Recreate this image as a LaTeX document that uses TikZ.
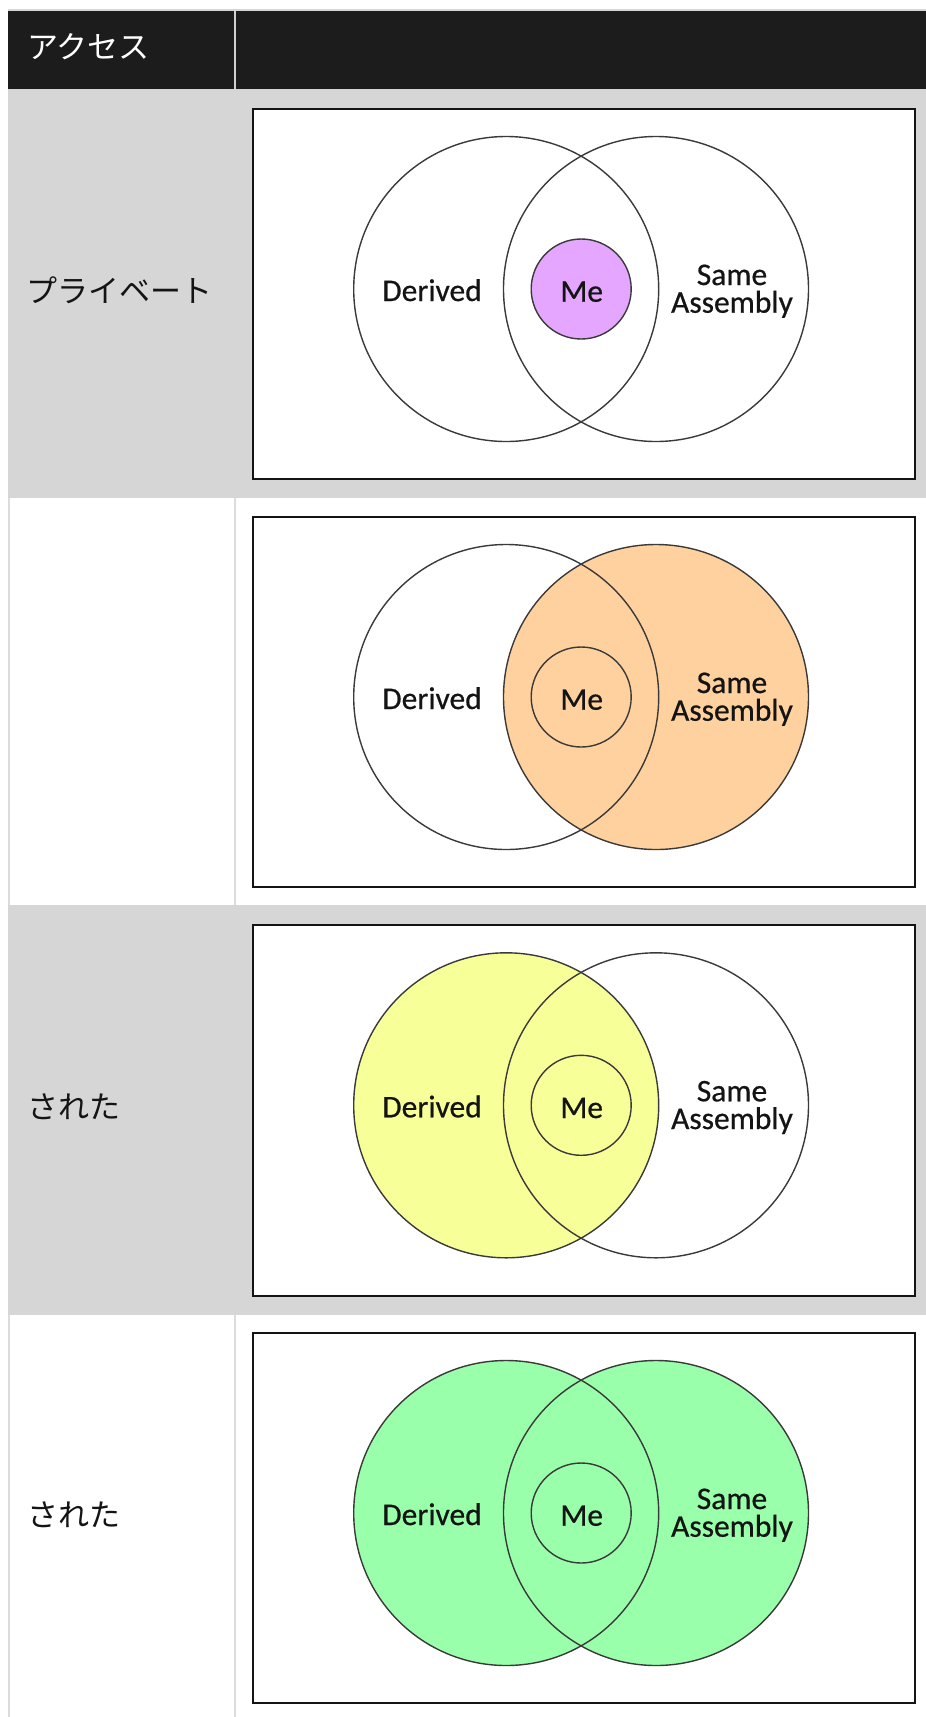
\documentclass[tikz,border=0pt]{standalone}
\usepackage{fontspec}
\setmainfont{Carlito}
\newfontfamily\lblfont{Carlito}[FakeBold=0.6]
\newfontfamily\jpfont{Noto Sans CJK JP}
\definecolor{hdr}{HTML}{1C1C1C}
\definecolor{rowgray}{HTML}{D6D6D6}
\definecolor{cellline}{HTML}{DCDCDC}
\definecolor{hdrline}{HTML}{D0D0D0}
\definecolor{mepurple}{RGB}{228,166,255}
\definecolor{saorange}{RGB}{255,209,158}
\definecolor{dyellow}{RGB}{247,255,153}
\definecolor{allgreen}{RGB}{153,255,170}
\definecolor{ring}{HTML}{3A3A3A}
\definecolor{txt}{HTML}{141414}
\tikzset{
  ringline/.style={draw=ring, line width=1.4pt},
  framebox/.style={draw=txt, line width=2pt, fill=white},
  lbl/.style={font=\lblfont\fontsize{31.5}{27.7}\selectfont, text=txt, inner sep=0pt, anchor=base},
  jplbl/.style={font=\jpfont\fontsize{31}{31}\selectfont, text=txt, inner sep=0pt, anchor=west},
}
\newcommand\vennrow[3]{%
  \def\cy{#1}%
  \draw[framebox] (253.3,\cy-180.3) rectangle (915,\cy+190.3);
  #2
  \draw[ringline] (506.2,\cy) circle[radius=152.5];
  \draw[ringline] (656,\cy) circle[radius=152.5];
  \draw[ringline] (581.2,\cy) circle[radius=50];
  \node[lbl] (#3der) at (432,\cy+12) {Derived};
  \node[lbl] (#3me) at (581.7,\cy+12.7) {Me};
  \node[lbl, align=center] (#3sa) at (732,\cy+23.7) {Same\\Assembly};
}
\begin{document}
\begin{tikzpicture}[x=1pt,y=-1pt]
\useasboundingbox (0,0) rectangle (926,1717);
\fill[white] (0,0) rectangle (926,1717);
% header
\fill[rowgray] (8,8.7) rectangle (926,10.7);
\fill[hdr] (8,10.7) rectangle (926,89);
\fill[hdrline] (234,10.7) rectangle (236,89);
% rows
\fill[rowgray] (8,89) rectangle (926,498.3);
\fill[cellline] (8,498.3) rectangle (10,905);
\fill[cellline] (234,498.3) rectangle (236,905);
\fill[rowgray] (8,905) rectangle (926,1315);
\fill[cellline] (8,1315) rectangle (10,1717);
\fill[cellline] (234,1315) rectangle (236,1717);
% left column texts
\node[jplbl, text=white] (hacc) at (27,47) {アクセス};
\node[jplbl] (lpriv) at (26,290) {プライベート};
\node[jplbl] (lprot1) at (27,1107) {された};
\node[jplbl] (lprot2) at (27,1515) {された};
% diagrams
\vennrow{289}{\fill[mepurple] (581.2,\cy) circle[radius=50];}{a}
\vennrow{697}{\fill[saorange] (656,\cy) circle[radius=152.5];}{b}
\vennrow{1105.3}{\fill[dyellow] (506.2,\cy) circle[radius=152.5];}{c}
\vennrow{1513}{\fill[allgreen] (506.2,\cy) circle[radius=152.5];\fill[allgreen] (656,\cy) circle[radius=152.5];}{d}
\end{tikzpicture}
\end{document}
